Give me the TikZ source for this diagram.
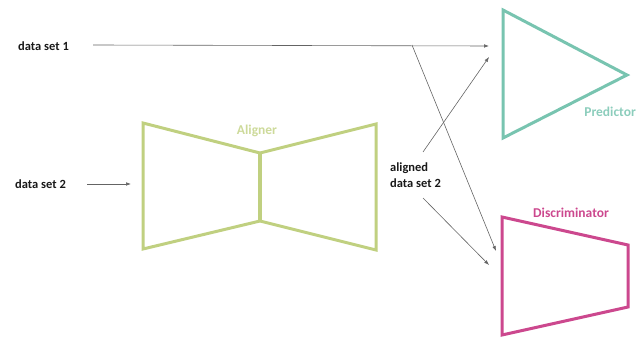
\documentclass[tikz,border=0pt]{standalone}
\usepackage{fontspec}
\setmainfont{Carlito}
\usetikzlibrary{arrows.meta}
\definecolor{predteal}{RGB}{120,196,176}
\definecolor{algreen}{RGB}{192,208,128}
\definecolor{discmag}{RGB}{204,72,142}
\definecolor{lineg}{RGB}{100,100,100}
\tikzset{
  lbl/.style={font=\fontsize{12.5}{16}\selectfont\bfseries, text=black!90, inner sep=0pt},
  clbl/.style={font=\fontsize{13.5}{16}\selectfont\bfseries, inner sep=0pt},
  conn/.style={draw=lineg, line width=0.6pt, -{Latex[length=5pt,width=3.6pt]}},
  predshape/.style={draw=predteal, line width=3pt, line join=miter},
  alshape/.style={draw=algreen, line width=3pt, line join=miter},
  discshape/.style={draw=discmag, line width=3pt, line join=miter},
}
\begin{document}
\begin{tikzpicture}[x=1pt,y=-1pt]
\useasboundingbox (0,0) rectangle (643,339);
% labels
\node[lbl, anchor=west] (ds1) at (18,46) {data set 1};
\node[lbl, anchor=west] (ds2) at (15,184) {data set 2};
\node[lbl, anchor=west, align=left] (ads2) at (390,175) {aligned\\data set 2};
% predictor
\coordinate (pa) at (503,10);
\coordinate (pb) at (627,75);
\coordinate (pc) at (503,138);
\draw[predshape] (pa) -- (pb) -- (pc) -- cycle;
\node[clbl, text=predteal!85!white, anchor=east] (plab) at (636,112) {Predictor};
% aligner
\coordinate (a1) at (143,123);
\coordinate (a2) at (260,153);
\coordinate (a3) at (260,221);
\coordinate (a4) at (143,249);
\coordinate (a5) at (376,124);
\coordinate (a6) at (376,250);
\draw[alshape] (a2) -- (a1) -- (a4) -- (a3);
\draw[alshape] (a2) -- (a5) -- (a6) -- (a3);
\draw[draw=algreen, line width=4.5pt] (a2) -- (a3);
\node[clbl, text=algreen!80!white] (alab) at (257,131) {Aligner};
% discriminator
\coordinate (d1) at (502,217);
\coordinate (d2) at (628,245);
\coordinate (d3) at (628,307);
\coordinate (d4) at (502,335);
\draw[discshape] (d1) -- (d2) -- (d3) -- (d4) -- cycle;
\node[clbl, text=discmag, anchor=west] (dlab) at (533,213) {Discriminator};
% connectors
\coordinate (ds1e) at (93,45);
\coordinate (br) at (412,45);
\coordinate (pin1) at (489,46);
\coordinate (pin2) at (489,57);
\coordinate (din1) at (496,251);
\coordinate (din2) at (489,265);
\coordinate (ds2s) at (87,184);
\coordinate (alin) at (131,184);
\coordinate (up) at (423,152);
\coordinate (dn) at (423,198);
\draw[conn] (ds1e) -- (pin1);
\draw[conn] (br) -- (din1);
\draw[conn] (ds2s) -- (alin);
\draw[conn] (up) -- (pin2);
\draw[conn] (dn) -- (din2);
\end{tikzpicture}
\end{document}
